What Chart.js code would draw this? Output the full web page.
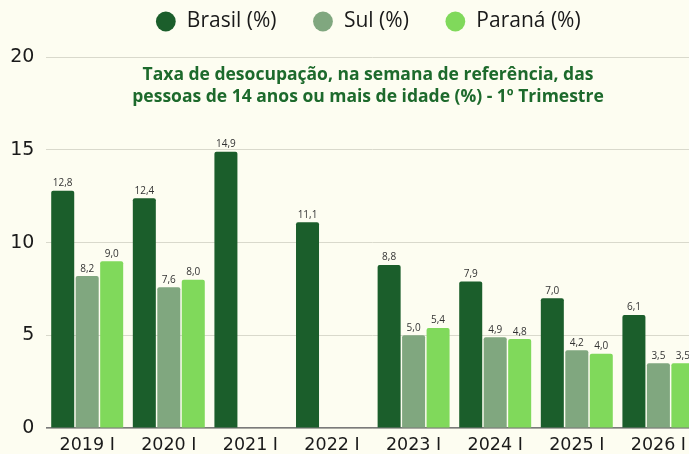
<!DOCTYPE html>
<html>
<head>
<meta charset="utf-8">
<script src="https://cdn.jsdelivr.net/npm/chart.js@4.4.1/dist/chart.umd.min.js"></script>
<style>
  html, body { margin: 0; padding: 0; background: #fdfdf1; overflow: hidden; }
  #wrap { width: 736px; height: 454px; }
</style>
</head>
<body>
<div id="wrap"><canvas id="c" width="736" height="454"></canvas></div>
<script>
const categories = ["2019 I", "2020 I", "2021 I", "2022 I", "2023 I", "2024 I", "2025 I", "2026 I"];
const brasil = [12.8, 12.4, 14.9, 11.1, 8.8, 7.9, 7.0, 6.1];
const sul    = [8.2, 7.6, null, null, 5.0, 4.9, 4.2, 3.5];
const parana = [9.0, 8.0, null, null, 5.4, 4.8, 4.0, 3.5];
const seriesNames = ["Brasil (%)", "Sul (%)", "Paraná (%)"];
const titleLines = [
  "Taxa de desocupação, na semana de referência, das",
  "pessoas de 14 anos ou mais de idade (%) - 1º Trimestre"
];
const yTicks = [0, 5, 10, 15, 20];

const BG = "#fdfdf1";

const bgPlugin = {
  id: "bg",
  beforeDraw(chart) {
    const ctx = chart.ctx;
    ctx.save();
    ctx.fillStyle = BG;
    ctx.fillRect(0, 0, chart.width, chart.height);
    ctx.restore();
  }
};

const titlePlugin = {
  id: "innerTitle",
  afterDatasetsDraw(chart) {
    const ctx = chart.ctx;
    ctx.save();
    ctx.fillStyle = "#1d6a2c";
    ctx.font = "bold 17.5px 'Open Sans'";
    ctx.textAlign = "center";
    ctx.textBaseline = "alphabetic";
    const cx = chart.width / 2;
    ctx.fillText(titleLines[0], cx, 80);
    ctx.fillText(titleLines[1], cx, 102);
    ctx.restore();
  }
};

const labelPlugin = {
  id: "valueLabels",
  afterDatasetsDraw(chart) {
    const ctx = chart.ctx;
    ctx.save();
    ctx.fillStyle = "#333333";
    ctx.font = "10px 'Open Sans'";
    ctx.textAlign = "center";
    ctx.textBaseline = "alphabetic";
    chart.data.datasets.forEach((ds, di) => {
      const meta = chart.getDatasetMeta(di);
      meta.data.forEach((bar, i) => {
        const v = ds.data[i];
        if (v === null || v === undefined) return;
        ctx.fillText(v.toFixed(1).replace(".", ","), bar.x, bar.y - 4.5);
      });
    });
    ctx.restore();
  }
};

new Chart(document.getElementById("c"), {
  type: "bar",
  data: {
    labels: categories,
    datasets: [
      { label: seriesNames[0], data: brasil, backgroundColor: "#1b5e2b", borderRadius: 2 },
      { label: seriesNames[1], data: sul,    backgroundColor: "#80a77f", borderRadius: 2 },
      { label: seriesNames[2], data: parana, backgroundColor: "#80d95b", borderRadius: 2 }
    ]
  },
  options: {
    responsive: false,
    animation: false,
    devicePixelRatio: 1,
    layout: { padding: { top: -25, left: 0, right: 0, bottom: 0 } },
    datasets: { bar: { categoryPercentage: 0.9, barPercentage: 0.94 } },
    plugins: {
      tooltip: { enabled: false },
      title: {
        display: true,
        text: "",
        weight: 500,
        font: { size: 10, lineHeight: 1 },
        padding: { top: 2.65, bottom: 2.65 }
      },
      legend: {
        position: "top",
        labels: {
          usePointStyle: true,
          pointStyle: "circle",
          boxWidth: 21,
          boxHeight: 14,
          padding: 36,
          color: "#1a1a1a",
          font: { family: "'Open Sans'", size: 21 }
        }
      }
    },
    scales: {
      x: {
        grid: { display: false, drawTicks: false },
        border: { display: true, color: "#7a7a7a", width: 1.5 },
        ticks: {
          color: "#1a1a1a",
          padding: 7,
          font: { family: "'DejaVu Sans'", size: 17.5 },
          maxRotation: 0,
          autoSkip: false
        },
        afterFit(scale) { scale.height = 26; }
      },
      y: {
        min: 0,
        max: 20,
        afterBuildTicks(scale) { scale.ticks = yTicks.map(v => ({ value: v })); },
        grid: { color: "#d9d9cc", lineWidth: 1, drawTicks: false },
        border: { display: false },
        ticks: {
          color: "#1a1a1a",
          padding: 12,
          font: { family: "'DejaVu Sans'", size: 19 }
        },
        afterFit(scale) { scale.width = 46.4; }
      },
      yR: {
        position: "right",
        display: true,
        grid: { display: false, drawTicks: false },
        border: { display: false },
        ticks: { display: false },
        afterFit(scale) { scale.width = 36.8; }
      }
    }
  },
  plugins: [bgPlugin, titlePlugin, labelPlugin]
});
</script>
</body>
</html>
